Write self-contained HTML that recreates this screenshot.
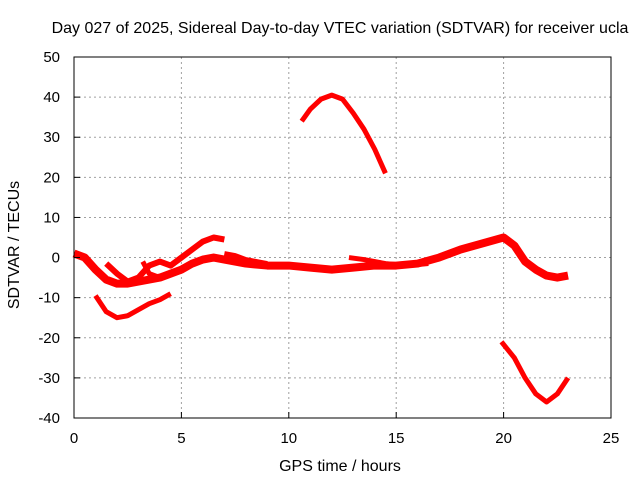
<!DOCTYPE html>
<html><head><meta charset="utf-8"><style>
body{margin:0;background:#fff}
text{font-family:"Liberation Sans",sans-serif;font-size:15px;fill:#000}
.tt{font-size:16px}
</style></head><body>
<svg width="640" height="480" xmlns="http://www.w3.org/2000/svg">
<g id="grid"></g>
<g id="series"></g>
<rect x="74" y="57" width="537" height="361" fill="none" stroke="#000" stroke-width="1"/>
<g id="ticks"></g>
<text class="tt" x="340" y="33" text-anchor="middle">Day 027 of 2025, Sidereal Day-to-day VTEC variation (SDTVAR) for receiver ucla</text>
<text class="tt" x="340" y="471" text-anchor="middle">GPS time / hours</text>
<text class="tt" transform="translate(19,245) rotate(-90)" text-anchor="middle">SDTVAR / TECUs</text>
</svg>
<script>
const xTicks=[0,5,10,15,20,25];
const yTicks=[-40,-30,-20,-10,0,10,20,30,40,50];
const s1x=[0,0.5,1,1.5,2,2.5,3,3.5,4,4.5,5,5.5,6,6.5,7,7.5,8,9,10,11,12,13,14,15,16,17,18,19,20,20.5,21,21.5,22,22.5,23];
const s1y=[1,0,-3,-5.5,-6.5,-6.5,-6,-5.5,-5,-4,-3,-1.5,-0.5,0,-0.5,-1,-1.5,-2,-2,-2.5,-3,-2.5,-2,-2,-1.5,0,2,3.5,5,3,-1,-3,-4.5,-5,-4.5];
const s2x=[1.5,2,2.5,3,3.5,4,4.5,5,5.5,6,6.5,7];
const s2y=[-1.5,-4,-6,-5,-2,-1,-2,0,2,4,5,4.5];
const s3x=[3.2,3.5,4,4.5,5];
const s3y=[-1,-4,-5,-4,-3];
const s4x=[1,1.5,2,2.5,3,3.5,4,4.5];
const s4y=[-9.5,-13.5,-15,-14.5,-13,-11.5,-10.5,-9];
const s5x=[10.6,11,11.5,12,12.5,13,13.5,14,14.5];
const s5y=[34,37,39.5,40.5,39.5,36,32,27,21];
const s6x=[19.9,20.5,21,21.5,22,22.5,23];
const s6y=[-21,-25,-30,-34,-36,-34,-30];
const s7x=[12.8,13.5,14.5,15.5,16.5];
const s7y=[0,-0.5,-1.5,-2,-1.5];
const s8x=[7,7.5,8,8.5,9];
const s8y=[1,0.5,-0.5,-1,-1.5];
const X=v=>74+v*537/25, Y=v=>418-(v+40)*361/90;
const NS="http://www.w3.org/2000/svg";
const g=document.getElementById('grid'),t=document.getElementById('ticks'),s=document.getElementById('series');
function mk(tag,a,p){const e=document.createElementNS(NS,tag);for(const k in a)e.setAttribute(k,a[k]);p.appendChild(e);return e;}
xTicks.forEach(v=>{
 if(v>0&&v<25){const l=mk('line',{x1:X(v),x2:X(v),y1:57,y2:418,stroke:'#a0a0a0','stroke-dasharray':'2,3'},g);
 
 }
 const tk=mk('line',{x1:X(v),x2:X(v),y1:418,y2:412,stroke:'#000'},t);
 
 
 const tx=mk('text',{x:X(v),y:443,'text-anchor':'middle'},t);tx.textContent=v;
 
 
});
yTicks.forEach(v=>{
 if(v>-40&&v<50){const l=mk('line',{x1:74,x2:611,y1:Y(v),y2:Y(v),stroke:'#a0a0a0','stroke-dasharray':'2,3'},g);
 
 }
 const tk=mk('line',{x1:74,x2:80,y1:Y(v),y2:Y(v),stroke:'#000'},t);
 
 
 const tx=mk('text',{x:60,y:Y(v)+5,'text-anchor':'end'},t);tx.textContent=v;
 
 
});
[[s1x,s1y,8],[s2x,s2y,6],[s3x,s3y,5],[s4x,s4y,5],[s5x,s5y,5],[s6x,s6y,5],[s7x,s7y,5],[s8x,s8y,5]].forEach((d,i)=>{
 const pts=d[0].map((x,j)=>X(x)+','+Y(d[1][j])).join(' ');
 const p=mk('polyline',{points:pts,fill:'none',stroke:'#ff0000','stroke-width':d[2],'stroke-linejoin':'round'},s);
 
 
});
</script>
</body></html>
